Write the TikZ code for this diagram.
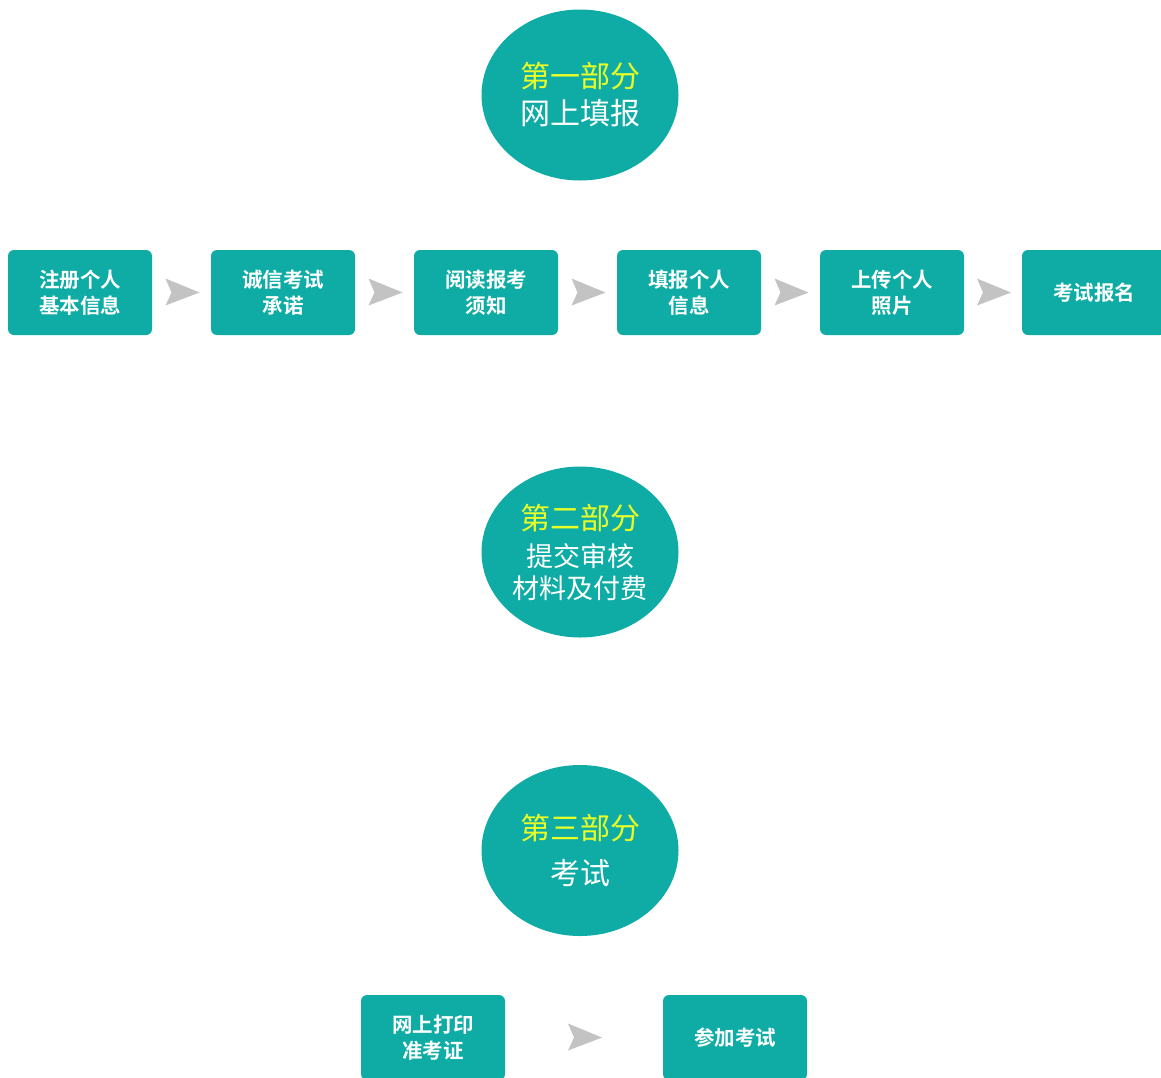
\documentclass[tikz,border=0pt]{standalone}
\usepackage{fontspec}
\newfontfamily\cjk{Noto Sans CJK SC}
\newfontfamily\cjkb{Noto Sans CJK SC Bold}
\usetikzlibrary{shapes.geometric}
\definecolor{teal1}{RGB}{14,172,165}
\definecolor{yel}{RGB}{232,255,40}
\definecolor{agrey}{RGB}{195,195,195}
\tikzset{
  stepbox/.style={fill=teal1, rounded corners=6pt, minimum width=144pt, minimum height=85pt,
    inner sep=0pt, text=white, align=center, font=\cjkb\fontsize{20.5}{26}\selectfont},
  part/.style={ellipse, fill=teal1, minimum width=197pt, minimum height=171pt, inner sep=0pt,
    text=white, align=center},
  chev/.style={fill=agrey}
}
\newcommand\chevron[1]{\fill[chev, shift={(#1)}] (18,0) -- (-16,-14) -- (-10,0) -- (-16,13) -- cycle;}
\begin{document}
\begin{tikzpicture}[x=1pt,y=-1pt]
\useasboundingbox (0,0) rectangle (1161,1077);
\clip (0,0) rectangle (1161,1077);
\fill[white] (0,0) rectangle (1161,1077);
% part 1
\node[part, font=\cjk\fontsize{30}{37}\selectfont] (p1) at (580,95) {{\color{yel}第一部分}\\网上填报};
\node[stepbox] (b1) at (80,292.5) {注册个人\\基本信息};
\node[stepbox] (b2) at (283,292.5) {诚信考试\\承诺};
\node[stepbox] (b3) at (486,292.5) {阅读报考\\须知};
\node[stepbox] (b4) at (689,292.5) {填报个人\\信息};
\node[stepbox] (b5) at (892,292.5) {上传个人\\照片};
\node[stepbox] (b6) at (1094,292.5) {考试报名};
\foreach \a/\b in {b1/b2,b2/b3,b3/b4,b4/b5,b5/b6}{
  \path (\a.east) -- (\b.west) coordinate[midway] (m\a);
  \chevron{m\a}
}
% part 2
\node[part, font=\cjk\fontsize{27}{32}\selectfont] (p2) at (580,552)
  {{\fontsize{30}{32}\selectfont\color{yel}第二部分}\\[5pt]提交审核\\材料及付费};
% part 3
\node[part, font=\cjk\fontsize{30}{37}\selectfont] (p3) at (580,850.5) {{\color{yel}第三部分}\\[8pt]考试};
\node[stepbox] (c1) at (433,1037.5) {网上打印\\准考证};
\node[stepbox] (c2) at (735,1037.5) {参加考试};
\path (c1.east) -- (c2.west) coordinate[midway] (mc);
\chevron{mc}
\end{tikzpicture}
\end{document}
